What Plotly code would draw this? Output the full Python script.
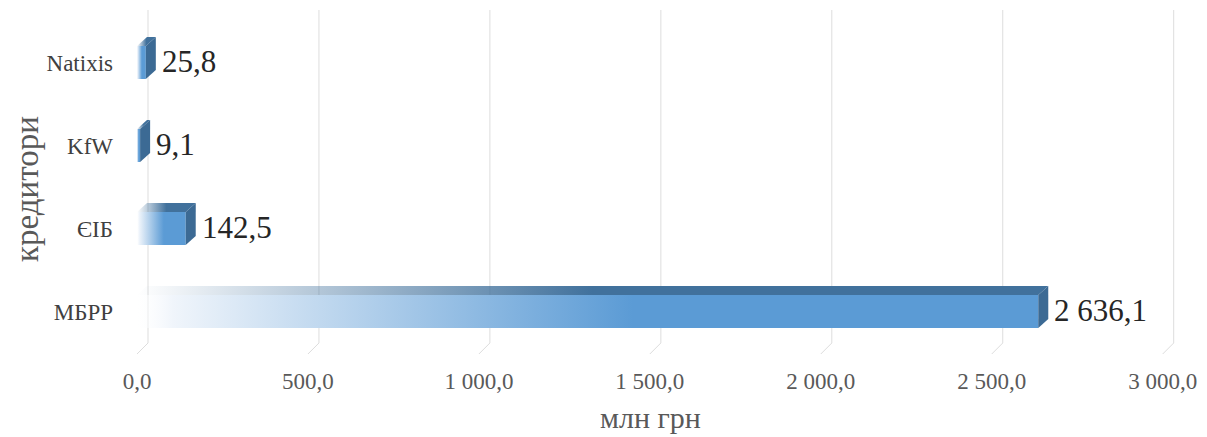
import plotly.graph_objects as go

# ---- data ----
categories = ["МБРР", "ЄІБ", "KfW", "Natixis"]
values = [2636.1, 142.5, 9.1, 25.8]
value_labels = ["2 636,1", "142,5", "9,1", "25,8"]
tick_values = [0, 500, 1000, 1500, 2000, 2500, 3000]
tick_labels = ["0,0", "500,0", "1 000,0", "1 500,0", "2 000,0", "2 500,0", "3 000,0"]
x_title = "млн грн"
y_title = "кредитори"

# ---- geometry / style ----
W, H = 1207, 437
L, R, T, B = 118, 7, 10, 83
px_per_unit_x = 0.3419
px_per_cat = 83.0
x0_px = 137.0
xmin = (L - x0_px) / px_per_unit_x
xmax = (W - R - x0_px) / px_per_unit_x
cat0_px = 311.5
ymin = -((H - B) - cat0_px) / px_per_cat
ymax = (len(categories) - 1) + (cat0_px - (len(categories) - 1) * px_per_cat - T) / px_per_cat

half_h = 16.5 / px_per_cat
bar_dx = 10 / px_per_unit_x
bar_dy = 9 / px_per_cat
grid_dx = 11 / px_per_unit_x
grid_dy = 11 / px_per_cat

FRONT = "#5B9BD5"
DARK = "#41719C"
SIDE = "#3C6A94"
FONT = "Liberation Serif"

fig = go.Figure()

# back-wall gridlines with floor diagonal
gx, gy = [], []
for t in tick_values:
    gx += [t + grid_dx, t + grid_dx, t, None]
    gy += [ymax, ymin + grid_dy, ymin, None]
fig.add_trace(go.Scatter(x=gx, y=gy, mode="lines", line=dict(color="#DDDDDD", width=1),
                         hoverinfo="skip", showlegend=False))

for i, (cat, v) in enumerate(zip(categories, values)):
    c = i
    lo, hi = c - half_h, c + half_h
    # top face
    fig.add_trace(go.Scatter(
        x=[0, v, v + bar_dx, bar_dx, 0], y=[hi, hi, hi + bar_dy, hi + bar_dy, hi],
        mode="lines", line=dict(width=0), fill="toself",
        fillgradient=dict(type="horizontal",
                          colorscale=[[0, "rgba(65,113,156,0.0)"], [0.5, DARK], [1, DARK]]),
        hoverinfo="skip", showlegend=False))
    # front face
    fig.add_trace(go.Scatter(
        x=[0, v, v, 0, 0], y=[lo, lo, hi, hi, lo],
        mode="lines", line=dict(width=0), fill="toself",
        fillgradient=dict(type="horizontal",
                          colorscale=[[0, "rgba(255,255,255,0.3)"], [0.04, "#F0F5FB"],
                                      [0.55, FRONT], [1, FRONT]]),
        hoverinfo="skip", showlegend=False))
    # side face
    fig.add_trace(go.Scatter(
        x=[v, v + bar_dx, v + bar_dx, v, v], y=[lo, lo + bar_dy, hi + bar_dy, hi, lo],
        mode="lines", line=dict(width=0), fill="toself", fillcolor=SIDE,
        hoverinfo="skip", showlegend=False))

annotations = []
for i, (v, lab) in enumerate(zip(values, value_labels)):
    annotations.append(dict(x=v, y=i, xref="x", yref="y", text=lab, showarrow=False,
                            xanchor="left", yanchor="middle", xshift=14, yshift=1,
                            font=dict(family=FONT, size=31, color="#262626")))

plot_w = W - L - R
plot_h = H - T - B
annotations.append(dict(x=(650 - L) / plot_w, y=((H - B) - 418) / plot_h, xref="paper", yref="paper",
                        text=x_title, showarrow=False, xanchor="center", yanchor="middle",
                        borderpad=0,
                        font=dict(family=FONT, size=30, color="#595959")))
annotations.append(dict(x=(27 - L) / plot_w, y=((H - B) - 189) / plot_h, xref="paper", yref="paper",
                        text=y_title, showarrow=False, xanchor="center", yanchor="middle", textangle=-90,
                        font=dict(family=FONT, size=33, color="#595959")))

fig.update_layout(
    width=W, height=H,
    margin=dict(l=L, r=R, t=T, b=B),
    paper_bgcolor="white", plot_bgcolor="white",
    showlegend=False,
    xaxis=dict(range=[xmin, xmax], tickvals=tick_values, ticktext=tick_labels,
               showgrid=False, zeroline=False, showline=False, ticks="",
               ticklabelstandoff=11,
               tickfont=dict(family=FONT, size=23, color="#595959")),
    yaxis=dict(range=[ymin, ymax], tickvals=list(range(len(categories))), ticktext=categories,
               showgrid=False, zeroline=False, showline=False, ticks="",
               ticklabelstandoff=4,
               tickfont=dict(family=FONT, size=23, color="#404040")),
    annotations=annotations,
)

fig.write_html("out.html", config={"displayModeBar": False},
               post_script="document.body.style.margin='0';document.body.style.padding='0';document.body.style.overflow='hidden';")
